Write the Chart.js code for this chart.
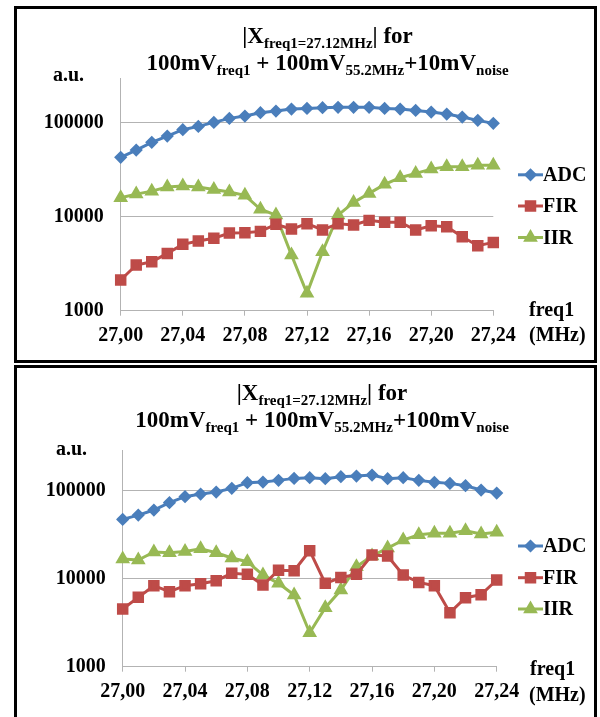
<!DOCTYPE html>
<html lang="en">
<head>
  <meta charset="UTF-8">
  <title>|X freq1=27.12MHz| for two noise levels</title>
  <script src="https://cdn.jsdelivr.net/npm/chart.js"></script>
  <style>
    body { margin: 0; background: #fff; overflow: hidden; }
    #page { position: relative; width: 600px; height: 717px; overflow: hidden; font-family: "Liberation Serif", "Times New Roman", serif; font-weight: bold; color: #000; }
    canvas { position: absolute; left: 0; }
    .panel { position: absolute; left: 14px; width: 583px; border: 3px solid #000; box-sizing: border-box; pointer-events: none; }
    .txt { position: absolute; white-space: nowrap; line-height: 24px; }
    .title { font-size: 23px; text-align: center; }
    .title sub { font-size: 15px; line-height: 0; vertical-align: -5px; }
    .lbl { font-size: 20px; }
  </style>
</head>
<body>
<div id="page">
  <canvas id="chart10"></canvas>
  <canvas id="chart100"></canvas>
  <div class="panel" style="top:6px; height:357px;"></div>
  <div class="panel" style="top:365px; height:370px;"></div>

  <div class="txt title" style="left:0; width:655px; top:24px;">|X<sub>freq1=27.12MHz</sub>| for</div>
  <div class="txt title" style="left:0; width:655px; top:51px;">100mV<sub>freq1</sub> + 100mV<sub>55.2MHz</sub>+10mV<sub>noise</sub></div>
  <div class="txt lbl" style="left:53px; top:62px;">a.u.</div>
  <div class="txt lbl" style="left:529px; top:297px;">freq1</div>
  <div class="txt lbl" style="left:529px; top:322px;">(MHz)</div>

  <div class="txt title" style="left:0; width:644px; top:381px;">|X<sub>freq1=27.12MHz</sub>| for</div>
  <div class="txt title" style="left:0; width:644px; top:408px;">100mV<sub>freq1</sub> + 100mV<sub>55.2MHz</sub>+100mV<sub>noise</sub></div>
  <div class="txt lbl" style="left:56px; top:436px;">a.u.</div>
  <div class="txt lbl" style="left:530px; top:656px;">freq1</div>
  <div class="txt lbl" style="left:529px; top:682px;">(MHz)</div>
</div>

<script>
  // frequency points (MHz) and axis ticks
  const freq = [27.00, 27.01, 27.02, 27.03, 27.04, 27.05, 27.06, 27.07, 27.08, 27.09,
                27.10, 27.11, 27.12, 27.13, 27.14, 27.15, 27.16, 27.17, 27.18, 27.19,
                27.20, 27.21, 27.22, 27.23, 27.24];
  const xTicks = [27.00, 27.04, 27.08, 27.12, 27.16, 27.20, 27.24];
  const yTicks = [1000, 10000, 100000];
  const seriesNames = ["ADC", "FIR", "IIR"];

  // top chart: 10mV noise
  const adc10 = [42800, 51200, 61800, 72100, 84300, 91400, 100800, 111200, 117800, 127800,
                 133000, 139600, 141900, 144400, 145600, 145600, 145600, 141900, 139600, 135200,
                 129800, 123600, 114900, 105900, 98400];
  const fir10 = [2120, 3060, 3320, 4070, 5080, 5510, 5890, 6700, 6760, 6980,
                 8290, 7390, 8430, 7220, 8430, 8150, 9140, 8710, 8710, 7220,
                 8020, 7830, 6130, 4910, 5330];
  const iir10 = [15900, 17400, 18700, 20700, 21200, 20700, 19500, 18300, 16900, 12000,
                 10400, 3910, 1530, 4240, 10400, 14200, 17700, 22100, 26000, 28900,
                 32100, 34000, 34000, 35200, 35200];

  // bottom chart: 100mV noise
  const adc100 = [47200, 52800, 60300, 73100, 85500, 91600, 96600, 106300, 123300, 125400,
                  131000, 138000, 140500, 136900, 144200, 146800, 150700, 136900, 140500, 131000,
                  124400, 121100, 114000, 101800, 94000];
  const fir100 = [4520, 6140, 8330, 7120, 8330, 8770, 9490, 11500, 11200, 8470,
                  12500, 12300, 20800, 8850, 10300, 11200, 18600, 18100, 11000, 9080,
                  8330, 4110, 6080, 6580, 9660];
  const iir100 = [16700, 16300, 20100, 19700, 20400, 21900, 19700, 17200, 15600, 11000,
                  8850, 6520, 2430, 4680, 7430, 13700, 18100, 22300, 27500, 31600,
                  32800, 32800, 35100, 32200, 33700];

  Chart.defaults.font.family = '"Liberation Serif", "Times New Roman", serif';
  Chart.defaults.font.weight = "bold";
  Chart.defaults.font.size = 20;
  Chart.defaults.color = "#000";

  const styles = [
    { color: "#4A7EBB", pointStyle: "rectRot", radius: 4.5 },
    { color: "#BE4B48", pointStyle: "rect", radius: 6 },
    { color: "#98B954", pointStyle: "triangle", radius: 5.5 }
  ];
  const gridColor = "#b3b3b3";

  // legend drawn at fixed places at the right, like the Excel original
  const sideLegend = {
    id: "sideLegend",
    afterDraw(chart, args, opts) {
      const ctx = chart.ctx;
      ctx.save();
      chart.data.datasets.forEach((ds, i) => {
        const y = opts.ys[i];
        ctx.strokeStyle = ds.borderColor;
        ctx.lineWidth = 3;
        ctx.beginPath();
        ctx.moveTo(opts.x, y);
        ctx.lineTo(opts.x + 25, y);
        ctx.stroke();
        ctx.fillStyle = ds.borderColor;
        Chart.helpers.drawPoint(ctx, {
          pointStyle: ds.pointStyle, rotation: 0, radius: ds.pointRadius, borderWidth: 1
        }, opts.x + 12.5, y);
        ctx.fillStyle = "#000";
        ctx.font = 'bold 20px "Liberation Serif", serif';
        ctx.textBaseline = "middle";
        ctx.textAlign = "left";
        ctx.fillText(ds.label, opts.x + 25, y + 1);
      });
      ctx.restore();
    }
  };

  function makeChart(id, top, height, series, yMax, pad, yAxisW, xAxisH, legendYs) {
    const canvas = document.getElementById(id);
    canvas.style.top = top + "px";
    canvas.style.width = "600px";
    canvas.style.height = height + "px";
    canvas.width = 600;
    canvas.height = height;

    const datasets = series.map((vals, i) => ({
      label: seriesNames[i],
      data: freq.map((f, j) => ({ x: f, y: vals[j] })),
      borderColor: styles[i].color,
      backgroundColor: styles[i].color,
      pointBackgroundColor: styles[i].color,
      pointBorderColor: styles[i].color,
      pointStyle: styles[i].pointStyle,
      pointRadius: styles[i].radius,
      borderWidth: 3,
      tension: 0,
      clip: false
    }));

    return new Chart(canvas, {
      type: "line",
      data: { datasets },
      plugins: [sideLegend],
      options: {
        responsive: false,
        animation: false,
        events: [],
        layout: { padding: pad },
        plugins: {
          legend: { display: false },
          title: { display: false },
          tooltip: { enabled: false },
          sideLegend: { x: 518, ys: legendYs }
        },
        scales: {
          x: {
            type: "linear",
            min: 27.00,
            max: 27.24,
            afterBuildTicks: s => { s.ticks = xTicks.map(v => ({ value: v })); },
            afterFit: s => { s.height = xAxisH; },
            ticks: {
              autoSkip: false,
              maxRotation: 0,
              padding: 8,
              callback: v => v.toFixed(2).replace(".", ",")
            },
            grid: { drawOnChartArea: false, drawTicks: true, tickLength: 5, color: gridColor },
            border: { color: gridColor }
          },
          y: {
            type: "logarithmic",
            min: 1000,
            max: yMax,
            afterBuildTicks: s => { s.ticks = yTicks.map(v => ({ value: v })); },
            afterFit: s => { s.width = yAxisW; },
            ticks: { padding: 17, callback: v => String(v) },
            grid: { drawTicks: false, color: gridColor },
            border: { color: gridColor }
          }
        }
      }
    });
  }

  makeChart("chart10", 0, 362, [adc10, fir10, iir10], 299000,
    { left: 0, right: 106.7, top: 78, bottom: 0 }, 120.7, 51.3, [174.8, 206, 237.5]);

  makeChart("chart100", 365, 352, [adc100, fir100, iir100], 290000,
    { left: 0, right: 103.3, top: 85, bottom: 0 }, 122.7, 50.3, [181, 212.7, 244]);
</script>
</body>
</html>
